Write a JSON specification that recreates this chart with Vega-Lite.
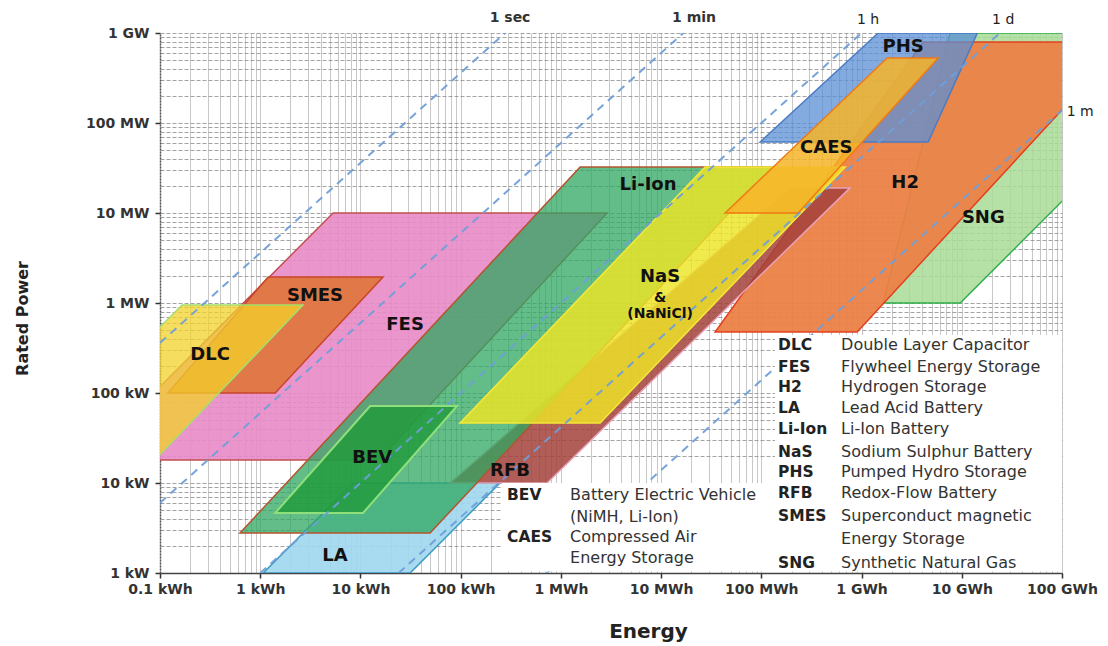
{
  "$schema": "https://vega.github.io/schema/vega-lite/v6.json",
  "width": 902,
  "height": 540,
  "autosize": {"type": "none"},
  "padding": {"left": 160, "top": 33, "right": 46, "bottom": 73},
  "background": "white",
  "config": {"view": {"stroke": null}, "font": "DejaVu Sans"},
  "datasets": {
    "shapes": [
      {"tech": "SNG", "P": 1000, "E1": 1640000, "E2": 9640000},
      {"tech": "SNG", "P": 1000000, "E1": 7660000, "E2": 4800000000},
      {"tech": "H2", "P": 476, "E1": 34600, "E2": 904000},
      {"tech": "H2", "P": 794000, "E1": 4120000, "E2": 420000000},
      {"tech": "PHS", "P": 61500, "E1": 97300, "E2": 4620000},
      {"tech": "PHS", "P": 1000000, "E1": 1465000, "E2": 14300000},
      {"tech": "FES", "P": 18, "E1": 0.0187, "E2": 15.3},
      {"tech": "FES", "P": 10000, "E1": 5.33, "E2": 2891},
      {"tech": "SMES", "P": 100, "E1": 0.12, "E2": 1.41},
      {"tech": "SMES", "P": 1945, "E1": 1.2, "E2": 16.8},
      {"tech": "DLC", "P": 10, "E1": 0.00277, "E2": 0.0538},
      {"tech": "DLC", "P": 950, "E1": 0.166, "E2": 2.67},
      {"tech": "LA", "P": 1, "E1": 1.07, "E2": 31.3},
      {"tech": "LA", "P": 10, "E1": 8.44, "E2": 247},
      {"tech": "RFB", "P": 10, "E1": 78.4, "E2": 728},
      {"tech": "RFB", "P": 19000, "E1": 194000, "E2": 769000},
      {"tech": "Li-Ion", "P": 2.78, "E1": 0.628, "E2": 49.5},
      {"tech": "Li-Ion", "P": 32400, "E1": 1556, "E2": 128000},
      {"tech": "BEV", "P": 4.64, "E1": 1.41, "E2": 10.6},
      {"tech": "BEV", "P": 71.7, "E1": 12.5, "E2": 92},
      {"tech": "NaS", "P": 46.4, "E1": 98.6, "E2": 2461},
      {"tech": "NaS", "P": 32400, "E1": 27480, "E2": 686000},
      {"tech": "CAES", "P": 10000, "E1": 43500, "E2": 233000},
      {"tech": "CAES", "P": 527000, "E1": 1800000, "E2": 5810000}
    ],
    "times": [
      {"t": "1 sec", "E": 0.1, "P": 360},
      {"t": "1 sec", "E": 277.8, "P": 1000000},
      {"t": "1 min", "E": 0.1, "P": 6},
      {"t": "1 min", "E": 16667, "P": 1000000},
      {"t": "1 h", "E": 1, "P": 1},
      {"t": "1 h", "E": 1000000, "P": 1000000},
      {"t": "1 d", "E": 24, "P": 1},
      {"t": "1 d", "E": 24000000, "P": 1000000},
      {"t": "1 m", "E": 720, "P": 1},
      {"t": "1 m", "E": 100000000, "P": 138889}
    ],
    "timelabels": [
      {"t": "1 sec", "E": 311, "P": 1470000},
      {"t": "1 min", "E": 21300, "P": 1470000},
      {"t": "1 h", "E": 1160000, "P": 1390000},
      {"t": "1 d", "E": 25900000, "P": 1390000},
      {"t": "1 m", "E": 152000000, "P": 133000}
    ],
    "boxes": [
      {"E1": 259, "E2": 137000, "P1": 1.04, "P2": 10},
      {"E1": 137000, "E2": 100000000, "P1": 1.04, "P2": 441}
    ],
    "labels": [
      {"name": "PHS", "E": 2600000, "P": 699000},
      {"name": "CAES", "E": 444000, "P": 52800},
      {"name": "H2", "E": 2720000, "P": 21500},
      {"name": "SNG", "E": 16400000, "P": 8800},
      {"name": "Li-Ion", "E": 7410, "P": 20500},
      {"name": "NaS", "E": 9770, "P": 1945},
      {"name": "FES", "E": 27.9, "P": 570},
      {"name": "SMES", "E": 3.52, "P": 1196},
      {"name": "DLC", "E": 0.316, "P": 264},
      {"name": "BEV", "E": 13.1, "P": 18.96},
      {"name": "RFB", "E": 311, "P": 13.6},
      {"name": "LA", "E": 5.58, "P": 1.545}
    ],
    "smalllabels": [
      {"name": "&", "E": 9770, "P": 1137},
      {"name": "(NaNiCl)", "E": 9770, "P": 755}
    ],
    "legend": [
      {"abbr": "DLC", "desc": "Double Layer Capacitor", "Ea": 147000, "Ed": 625000, "P": 341.5},
      {"abbr": "FES", "desc": "Flywheel Energy Storage", "Ea": 147000, "Ed": 625000, "P": 194.5},
      {"abbr": "H2", "desc": "Hydrogen Storage", "Ea": 147000, "Ed": 625000, "P": 116.6},
      {"abbr": "LA", "desc": "Lead Acid Battery", "Ea": 147000, "Ed": 625000, "P": 68.1},
      {"abbr": "Li-Ion", "desc": "Li-Ion Battery", "Ea": 147000, "Ed": 625000, "P": 39.8},
      {"abbr": "NaS", "desc": "Sodium Sulphur Battery", "Ea": 147000, "Ed": 625000, "P": 22.1},
      {"abbr": "PHS", "desc": "Pumped Hydro Storage", "Ea": 147000, "Ed": 625000, "P": 13.25},
      {"abbr": "RFB", "desc": "Redox-Flow Battery", "Ea": 147000, "Ed": 625000, "P": 7.74},
      {"abbr": "SMES", "desc": "Superconduct magnetic", "Ea": 147000, "Ed": 625000, "P": 4.3},
      {"abbr": "", "desc": "Energy Storage", "Ea": 147000, "Ed": 625000, "P": 2.39},
      {"abbr": "SNG", "desc": "Synthetic Natural Gas", "Ea": 147000, "Ed": 625000, "P": 1.29},
      {"abbr": "BEV", "desc": "Battery Electric Vehicle", "Ea": 290, "Ed": 1236, "P": 7.36},
      {"abbr": "", "desc": "(NiMH, Li-Ion)", "Ea": 290, "Ed": 1236, "P": 4.19},
      {"abbr": "CAES", "desc": "Compressed Air", "Ea": 290, "Ed": 1236, "P": 2.51},
      {"abbr": "", "desc": "Energy Storage", "Ea": 290, "Ed": 1236, "P": 1.468}
    ]
  },
  "layer": [
    {
      "data": {"name": "shapes"},
      "encoding": {
        "y": {
          "field": "P", "type": "quantitative",
          "scale": {"type": "log", "domain": [1, 1000000], "nice": false},
          "axis": {
            "title": "Rated Power",
            "titleFontSize": 16, "titleFontWeight": "bold", "titleColor": "#222",
            "titleX": -138, "titleY": 285, "titleBaseline": "middle", "titleAnchor": "middle",
            "values": [1,2,3,4,5,6,7,8,9,10,20,30,40,50,60,70,80,90,100,200,300,400,500,600,700,800,900,1000,2000,3000,4000,5000,6000,7000,8000,9000,10000,20000,30000,40000,50000,60000,70000,80000,90000,100000,200000,300000,400000,500000,600000,700000,800000,900000,1000000],
            "labelExpr": "datum.value==1?'1 kW':datum.value==10?'10 kW':datum.value==100?'100 kW':datum.value==1000?'1 MW':datum.value==10000?'10 MW':datum.value==100000?'100 MW':datum.value==1000000?'1 GW':''",
            "labelOverlap": false, "labelFlush": false, "labelBound": false,
            "labelFontSize": 14, "labelFontWeight": "bold", "labelColor": "#333", "labelPadding": 6,
            "tickSize": 5, "tickColor": "#333", "tickWidth": 1.5,
            "tickOpacity": {"condition": {"test": "indexof([1,10,100,1000,10000,100000,1000000], datum.value) >= 0", "value": 1}, "value": 0},
            "domainColor": "#555", "domainWidth": 1.5, "domainDash": [2, 1],
            "grid": true, "gridColor": "#8c8c8c", "gridDash": [4, 2], "gridWidth": 1, "gridOpacity": 0.8
          }
        },
        "x": {
          "field": "E1", "type": "quantitative", "stack": null,
          "scale": {"type": "log", "domain": [0.1, 100000000], "nice": false},
          "axis": {
            "title": "Energy",
            "titleFontSize": 20, "titleFontWeight": "bold", "titleColor": "#222",
            "titleX": 488, "titleY": 58, "titleBaseline": "middle", "titleAnchor": "middle",
            "values": [0.1,0.2,0.3,0.4,0.5,0.6,0.7,0.8,0.9,1,2,3,4,5,6,7,8,9,10,20,30,40,50,60,70,80,90,100,200,300,400,500,600,700,800,900,1000,2000,3000,4000,5000,6000,7000,8000,9000,10000,20000,30000,40000,50000,60000,70000,80000,90000,100000,200000,300000,400000,500000,600000,700000,800000,900000,1000000,2000000,3000000,4000000,5000000,6000000,7000000,8000000,9000000,10000000,20000000,30000000,40000000,50000000,60000000,70000000,80000000,90000000,100000000],
            "labelExpr": "datum.value==0.1?'0.1 kWh':datum.value==1?'1 kWh':datum.value==10?'10 kWh':datum.value==100?'100 kWh':datum.value==1000?'1 MWh':datum.value==10000?'10 MWh':datum.value==100000?'100 MWh':datum.value==1000000?'1 GWh':datum.value==10000000?'10 GWh':datum.value==100000000?'100 GWh':''",
            "labelOverlap": false, "labelFlush": false, "labelBound": false,
            "labelFontSize": 14, "labelFontWeight": "bold", "labelColor": "#333", "labelPadding": 4,
            "tickSize": 5, "tickColor": "#333", "tickWidth": 1.5,
            "tickOpacity": {"condition": {"test": "indexof([0.1,1,10,100,1000,10000,100000,1000000,10000000,100000000], datum.value) >= 0", "value": 1}, "value": 0},
            "domainColor": "#444", "domainWidth": 1.5,
            "grid": true, "gridColor": "#c2c2c2", "gridWidth": 1, "gridOpacity": 0.9
          }
        },
        "x2": {"field": "E2"}
      },
      "layer": [
        {"transform": [{"filter": "datum.tech == 'SNG'"}], "mark": {"type": "area", "orient": "horizontal", "clip": true, "fill": "#a8dc98", "fillOpacity": 0.85, "stroke": "#2fb04a", "strokeWidth": 1.5}},
        {"transform": [{"filter": "datum.tech == 'H2'"}], "mark": {"type": "area", "orient": "horizontal", "clip": true, "fill": "#ec7f45", "fillOpacity": 0.94, "stroke": "#e2401f", "strokeWidth": 1.5}},
        {"transform": [{"filter": "datum.tech == 'PHS'"}], "mark": {"type": "area", "orient": "horizontal", "clip": true, "fill": "#5b8fd6", "fillOpacity": 0.75, "stroke": "#4a7cc4", "strokeWidth": 1.5}},
        {"transform": [{"filter": "datum.tech == 'FES'"}], "mark": {"type": "area", "orient": "horizontal", "clip": true, "fill": "#e889c6", "fillOpacity": 0.9, "stroke": "#c0504d", "strokeWidth": 1.5}},
        {"transform": [{"filter": "datum.tech == 'SMES'"}], "mark": {"type": "area", "orient": "horizontal", "clip": true, "fill": "#e0743a", "fillOpacity": 0.9, "stroke": "#c8452a", "strokeWidth": 1.5}},
        {"transform": [{"filter": "datum.tech == 'DLC'"}], "mark": {"type": "area", "orient": "horizontal", "clip": true, "fill": "#f2d22a", "fillOpacity": 0.75, "stroke": "#a6df6a", "strokeWidth": 1.5}},
        {"transform": [{"filter": "datum.tech == 'LA'"}], "mark": {"type": "area", "orient": "horizontal", "clip": true, "fill": "#9fd6ee", "fillOpacity": 0.9, "stroke": "#3b9ac4", "strokeWidth": 1.5}},
        {"transform": [{"filter": "datum.tech == 'RFB'"}], "mark": {"type": "area", "orient": "horizontal", "clip": true, "fill": "#a3413b", "fillOpacity": 0.85, "stroke": "#e8a2b8", "strokeWidth": 1.5}},
        {"transform": [{"filter": "datum.tech == 'Li-Ion'"}], "mark": {"type": "area", "orient": "horizontal", "clip": true, "fill": "#2fa760", "fillOpacity": 0.75, "stroke": "#b4542e", "strokeWidth": 1.5}},
        {"transform": [{"filter": "datum.tech == 'BEV'"}], "mark": {"type": "area", "orient": "horizontal", "clip": true, "fill": "#1f9a3a", "fillOpacity": 0.8, "stroke": "#8fe07a", "strokeWidth": 2}},
        {"transform": [{"filter": "datum.tech == 'NaS'"}], "mark": {"type": "area", "orient": "horizontal", "clip": true, "fill": "#eee526", "fillOpacity": 0.82, "stroke": "#f5e83a", "strokeWidth": 1.5}},
        {"transform": [{"filter": "datum.tech == 'CAES'"}], "mark": {"type": "area", "orient": "horizontal", "clip": true, "fill": "#f4b428", "fillOpacity": 0.85, "stroke": "#f07a14", "strokeWidth": 1.5}}
      ]
    },
    {
      "data": {"name": "times"},
      "mark": {"type": "line", "clip": true, "stroke": "#6f9fd8", "strokeWidth": 2, "strokeDash": [8, 6], "opacity": 0.95},
      "encoding": {
        "x": {"field": "E", "type": "quantitative", "scale": {"type": "log", "domain": [0.1, 100000000], "nice": false}},
        "y": {"field": "P", "type": "quantitative", "scale": {"type": "log", "domain": [1, 1000000], "nice": false}},
        "detail": {"field": "t"}
      }
    },
    {
      "data": {"name": "boxes"},
      "mark": {"type": "rect", "fill": "white", "clip": true},
      "encoding": {
        "x": {"field": "E1", "type": "quantitative", "scale": {"type": "log", "domain": [0.1, 100000000], "nice": false}},
        "x2": {"field": "E2"},
        "y": {"field": "P1", "type": "quantitative", "scale": {"type": "log", "domain": [1, 1000000], "nice": false}},
        "y2": {"field": "P2"}
      }
    },
    {
      "data": {"name": "timelabels"},
      "transform": [{"filter": "datum.t == '1 sec' || datum.t == '1 min'"}],
      "mark": {"type": "text", "fontSize": 14, "fontWeight": "bold", "color": "#333", "align": "center", "baseline": "middle"},
      "encoding": {
        "x": {"field": "E", "type": "quantitative", "scale": {"type": "log", "domain": [0.1, 100000000], "nice": false}},
        "y": {"field": "P", "type": "quantitative", "scale": {"type": "log", "domain": [1, 1000000], "nice": false}},
        "text": {"field": "t"}
      }
    },
    {
      "data": {"name": "timelabels"},
      "transform": [{"filter": "datum.t != '1 sec' && datum.t != '1 min'"}],
      "mark": {"type": "text", "fontSize": 14, "color": "#222", "align": "center", "baseline": "middle"},
      "encoding": {
        "x": {"field": "E", "type": "quantitative", "scale": {"type": "log", "domain": [0.1, 100000000], "nice": false}},
        "y": {"field": "P", "type": "quantitative", "scale": {"type": "log", "domain": [1, 1000000], "nice": false}},
        "text": {"field": "t"}
      }
    },
    {
      "data": {"name": "labels"},
      "mark": {"type": "text", "fontSize": 18, "fontWeight": "bold", "color": "#111", "align": "center", "baseline": "middle"},
      "encoding": {
        "x": {"field": "E", "type": "quantitative", "scale": {"type": "log", "domain": [0.1, 100000000], "nice": false}},
        "y": {"field": "P", "type": "quantitative", "scale": {"type": "log", "domain": [1, 1000000], "nice": false}},
        "text": {"field": "name"}
      }
    },
    {
      "data": {"name": "smalllabels"},
      "mark": {"type": "text", "fontSize": 14, "fontWeight": "bold", "color": "#111", "align": "center", "baseline": "middle"},
      "encoding": {
        "x": {"field": "E", "type": "quantitative", "scale": {"type": "log", "domain": [0.1, 100000000], "nice": false}},
        "y": {"field": "P", "type": "quantitative", "scale": {"type": "log", "domain": [1, 1000000], "nice": false}},
        "text": {"field": "name"}
      }
    },
    {
      "data": {"name": "legend"},
      "mark": {"type": "text", "fontSize": 15.5, "fontWeight": "bold", "color": "#222", "align": "left", "baseline": "middle"},
      "encoding": {
        "x": {"field": "Ea", "type": "quantitative", "scale": {"type": "log", "domain": [0.1, 100000000], "nice": false}},
        "y": {"field": "P", "type": "quantitative", "scale": {"type": "log", "domain": [1, 1000000], "nice": false}},
        "text": {"field": "abbr"}
      }
    },
    {
      "data": {"name": "legend"},
      "mark": {"type": "text", "fontSize": 16, "color": "#333", "align": "left", "baseline": "middle"},
      "encoding": {
        "x": {"field": "Ed", "type": "quantitative", "scale": {"type": "log", "domain": [0.1, 100000000], "nice": false}},
        "y": {"field": "P", "type": "quantitative", "scale": {"type": "log", "domain": [1, 1000000], "nice": false}},
        "text": {"field": "desc"}
      }
    }
  ]
}
